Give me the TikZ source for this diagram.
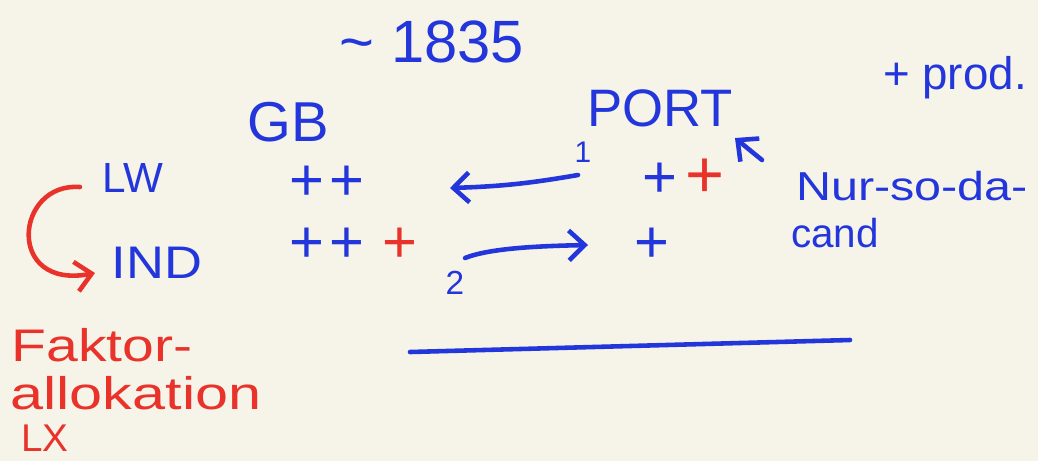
\documentclass[tikz,border=0pt]{standalone}
\usepackage{fontspec}
\setmainfont{Liberation Sans}
\usetikzlibrary{arrows.meta}
\definecolor{cblue}{HTML}{2236DC}
\definecolor{cred}{HTML}{E8322A}
\definecolor{cpaper}{HTML}{F6F3E9}
\newcommand{\fs}[1]{\fontsize{#1}{#1}\selectfont}
\newcommand{\wide}[1]{\addfontfeatures{FakeStretch=#1}}

\begin{document}
\begin{tikzpicture}[x=0.02cm, y=-0.02cm,
    ink/.style={text=cblue, inner sep=0pt},
    redink/.style={text=cred, inner sep=0pt},
    pen/.style={draw=cblue, line width=2.6pt, line cap=round},
    barb/.style={-{Straight Barb[length=9pt,width=17pt,line width=2.6pt]}}]
  % paper
  \fill[cpaper] (0,0) rectangle (1038,461);

  % header
  \node[ink] (year) at (432,42) {\fs{34}\textasciitilde\ 1835};
  \node[ink] (gb) at (288,122) {\fs{32}GB};
  \node[ink] (port) at (660,108) {\fs{30}PORT};
  \node[ink] (prod) at (955,78) {\fs{26}+ prod.};

  % rows
  \node[ink] (lw) at (133,178) {\fs{24}LW};
  \node[ink] (ind) at (157,263) {\fs{26}\wide{1.15}IND};
  \node[ink] (gblw) at (327,183) {\fs{34}+\kern3pt+};
  \node[ink] (gbind) at (327,245) {\fs{34}+\kern3pt+};
  \node[redink] (gbindr) at (400,245) {\fs{34}+};
  \node[ink] (portlw) at (660,180) {\fs{34}+};
  \node[redink] (portlwr) at (705,178) {\fs{38}+};
  \node[ink] (portind) at (652,245) {\fs{34}+};
  \node[ink] (one) at (583,152) {\fs{17}1};
  \node[ink] (two) at (455,283) {\fs{19}2};

  \node[ink] (nur) at (912,186) {\fs{23}\wide{1.2}Nur-so-da-};
  \node[ink] (cand) at (835,233) {\fs{23}cand};

  % red notes
  \node[redink] (faktor) at (102,345) {\fs{26}\wide{1.25}Faktor-};
  \node[redink] (alloc) at (136,393) {\fs{26}\wide{1.3}allokation};
  \node[redink] (lx) at (45,438) {\fs{22}LX};

  % arrows
  \coordinate (a1s) at (578,175);
  \coordinate (a1e) at (450,188);
  \coordinate (a2s) at (465,258);
  \coordinate (a2e) at (588,245);
  \coordinate (a3s) at (762,160);
  \coordinate (a3e) at (735,138);
  \coordinate (rs) at (80,187);
  \coordinate (re) at (95,273);
  \coordinate (ls) at (410,352);
  \coordinate (le) at (850,340);

  \draw[pen, barb] (a1s) to[bend left=4] (a1e);
  \draw[pen, barb] (a2s) .. controls (490,248) and (540,246) .. (a2e);
  \draw[pen, barb] (a3s) -- (a3e);
  \draw[pen, draw=cred, barb] (rs) .. controls (15,182) and (5,290) .. (re);
  \draw[pen] (ls) -- (le);
\end{tikzpicture}
\end{document}
